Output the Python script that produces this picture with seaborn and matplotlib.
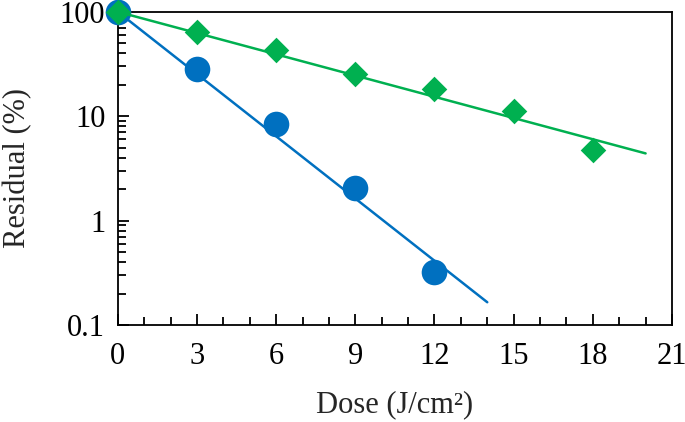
import numpy as np
import pandas as pd
import seaborn as sns
import matplotlib.pyplot as plt
from matplotlib.ticker import FixedLocator, FixedFormatter, LogLocator, MultipleLocator

blue_dose = [0, 3, 6, 9, 12]
blue_resid = [100, 28.5, 8.4, 2.05, 0.32]
green_dose = [0, 3, 6, 9, 12, 15, 18]
green_resid = [100, 64, 43, 25.5, 18.3, 11.2, 4.7]

# trend line end points
blue_fit_dose = [0, 14]
blue_fit_resid = [100, 0.165]
green_fit_dose = [0, 20]
green_fit_resid = [100, 4.4]

x_ticks = [0, 3, 6, 9, 12, 15, 18, 21]
y_ticks = [0.1, 1, 10, 100]
y_labels = ["0.1", "1", "10", "100"]

blue = "#0070C0"
green = "#00B050"

sns.set_style("ticks")
plt.rcParams["font.family"] = ["Liberation Serif", "DejaVu Serif"]

fig = plt.figure(figsize=(6.85, 4.22), dpi=100)
ax = fig.add_axes([0.172, 0.23, 0.809, 0.742])

blue_pts = pd.DataFrame({"dose": blue_dose, "resid": blue_resid})
green_pts = pd.DataFrame({"dose": green_dose, "resid": green_resid})
blue_fit = pd.DataFrame({"dose": blue_fit_dose, "resid": blue_fit_resid})
green_fit = pd.DataFrame({"dose": green_fit_dose, "resid": green_fit_resid})

sns.scatterplot(data=blue_pts, x="dose", y="resid", ax=ax, color=blue,
                marker="o", s=340, linewidth=0, clip_on=False, zorder=3)
sns.lineplot(data=blue_fit, x="dose", y="resid", ax=ax, color=blue,
             linewidth=1.8, zorder=4)
sns.scatterplot(data=green_pts, x="dose", y="resid", ax=ax, color=green,
                marker="D", s=170, linewidth=0, clip_on=False, zorder=5)
sns.lineplot(data=green_fit, x="dose", y="resid", ax=ax, color=green,
             linewidth=1.8, zorder=6)

ax.set_yscale("log")
ax.set_xlim(0, 21)
ax.set_ylim(0.1, 100)
ax.xaxis.set_major_locator(FixedLocator(x_ticks))
ax.xaxis.set_minor_locator(MultipleLocator(1))
ax.yaxis.set_major_locator(FixedLocator(y_ticks))
ax.yaxis.set_major_formatter(FixedFormatter(y_labels))
ax.yaxis.set_minor_locator(LogLocator(base=10, subs=np.arange(2, 10)))
ax.yaxis.set_minor_formatter(FixedFormatter([]))
ax.tick_params(which="both", direction="in", top=False, right=False,
               labelsize=22, width=1.3, colors="black")
ax.tick_params(which="minor", length=6)
ax.tick_params(axis="x", which="major", length=8, pad=12)
ax.tick_params(axis="y", which="major", length=8, pad=9)

for sp in ax.spines.values():
    sp.set_visible(True)
    sp.set_linewidth(1.3)
    sp.set_color("black")

ax.set_xlabel("Dose (J/cm²)", fontsize=22, labelpad=14)
ax.set_ylabel("Residual (%)", fontsize=22, labelpad=20)

fig.savefig("out.png", dpi=100)
